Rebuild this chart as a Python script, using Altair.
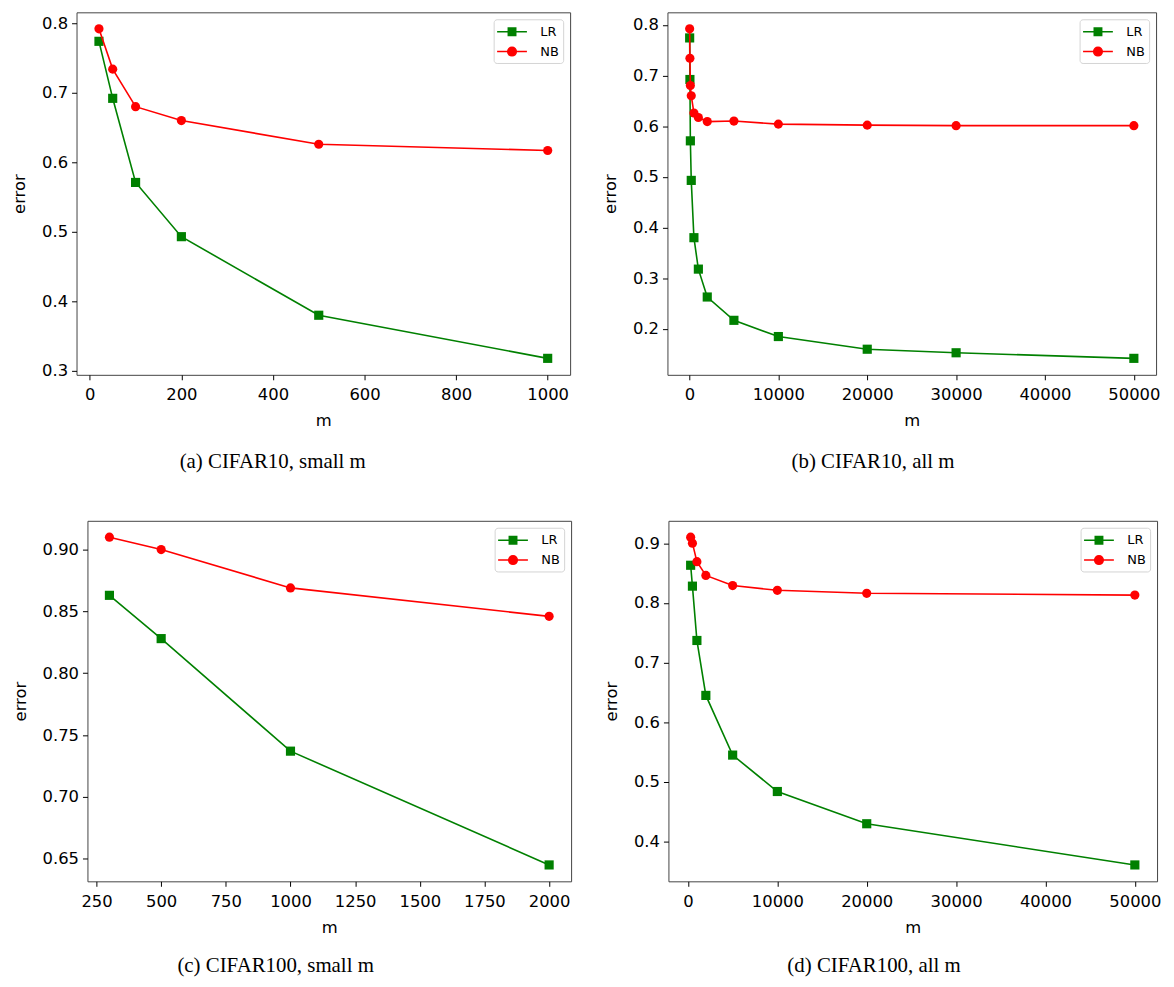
import altair as alt
import pandas as pd

GREEN = "#008000"
RED = "#ff0000"

# (a) CIFAR10, small m
m_a = [20, 50, 100, 200, 500, 1000]
lr_a = [0.774, 0.692, 0.571, 0.493, 0.380, 0.318]
nb_a = [0.792, 0.734, 0.680, 0.660, 0.626, 0.617]

# (b) CIFAR10, all m
m_b = [20, 50, 100, 200, 500, 1000, 2000, 5000, 10000, 20000, 30000, 50000]
lr_b = [0.774, 0.692, 0.571, 0.493, 0.380, 0.318, 0.263, 0.217, 0.185, 0.160, 0.153, 0.142]
nb_b = [0.792, 0.734, 0.680, 0.660, 0.626, 0.617, 0.609, 0.610, 0.604, 0.602, 0.601, 0.601]

# (c) CIFAR100, small m
m_c = [300, 500, 1000, 2000]
lr_c = [0.863, 0.828, 0.737, 0.645]
nb_c = [0.910, 0.900, 0.869, 0.846]

# (d) CIFAR100, all m
m_d = [300, 500, 1000, 2000, 5000, 10000, 20000, 50000]
lr_d = [0.863, 0.828, 0.737, 0.645, 0.545, 0.484, 0.430, 0.361]
nb_d = [0.910, 0.900, 0.869, 0.846, 0.829, 0.821, 0.816, 0.813]

xticks_a = [0, 200, 400, 600, 800, 1000]
xticks_b = [0, 10000, 20000, 30000, 40000, 50000]
xticks_c = [250, 500, 750, 1000, 1250, 1500, 1750, 2000]
yticks_a = [0.3, 0.4, 0.5, 0.6, 0.7, 0.8]
yticks_b = [0.2, 0.3, 0.4, 0.5, 0.6, 0.7, 0.8]
yticks_c = [0.65, 0.70, 0.75, 0.80, 0.85, 0.90]
yticks_d = [0.4, 0.5, 0.6, 0.7, 0.8, 0.9]

SERIES = ["LR", "NB"]
# legend glyphs: a line segment with a marker on it (unit box = 15px)
SQ = "M-2,0L2,0M-0.5,-0.5L0.5,-0.5L0.5,0.5L-0.5,0.5Z"
CI = "M-2,0L2,0M0.58,0A0.58,0.58,0,1,1,-0.58,0A0.58,0.58,0,1,1,0.58,0Z"


def padded(vals, frac=0.05):
    lo, hi = min(vals), max(vals)
    r = hi - lo
    return [lo - frac * r, hi + frac * r]


def panel(m, lr, nb, xticks, yticks, yfmt, caption, w, h, dx, cap_offset):
    df = pd.DataFrame({
        "m": m + m,
        "error": lr + nb,
        "series": ["LR"] * len(m) + ["NB"] * len(m),
    })
    legend = alt.Legend(
        title=None, orient="top-right", offset=7, padding=4,
        fillColor="white", strokeColor="#d4d4d4", cornerRadius=3,
        labelFont="DejaVu Sans", labelFontSize=13, labelColor="black",
        symbolSize=225, symbolStrokeWidth=1.5, symbolOpacity=1, symbolOffset=6,
        rowPadding=4, labelOffset=20,
    )
    base = alt.Chart(df).encode(
        x=alt.X("m:Q", scale=alt.Scale(domain=padded(m), nice=False, zero=False),
                axis=alt.Axis(values=xticks, format="d", title="m")),
        y=alt.Y("error:Q", scale=alt.Scale(domain=padded(lr + nb), nice=False, zero=False),
                axis=alt.Axis(values=yticks, format=yfmt, title="error")),
    )
    layers = []
    for s, col, shp in [("LR", GREEN, "square"), ("NB", RED, "circle")]:
        sub = base.transform_filter(alt.datum.series == s)
        layers.append(sub.mark_line(color=col, strokeWidth=1.6))
        layers.append(sub.mark_point(shape=shp, filled=True, color=col, size=85, opacity=1))
    leg = base.transform_filter("false").mark_point(filled=True, opacity=1, strokeWidth=1.5).encode(
        color=alt.Color("series:N", scale=alt.Scale(domain=SERIES, range=[GREEN, RED]), legend=legend),
        stroke=alt.Stroke("series:N", scale=alt.Scale(domain=SERIES, range=[GREEN, RED]), legend=legend),
        shape=alt.Shape("series:N", scale=alt.Scale(domain=SERIES, range=[SQ, CI]), legend=legend),
    )
    layers.append(leg)
    return alt.layer(*layers).properties(
        width=w, height=h,
        title=alt.TitleParams(caption, orient="bottom", frame="group", anchor="middle",
                              font="Liberation Serif", fontSize=21, fontWeight="normal",
                              color="black", offset=cap_offset, dx=dx),
    )


def spacer():
    # invisible 1px column so that each row keeps its own left axis extent
    return alt.Chart(pd.DataFrame({"k": [0]})).mark_rect(opacity=0).encode(
        x=alt.value(0), x2=alt.value(1), y=alt.value(0), y2=alt.value(1)
    ).properties(width=1, height=1, view=alt.ViewBackground(stroke="transparent"))


pa = panel(m_a, lr_a, nb_a, xticks_a, yticks_a, ".1f", "(a) CIFAR10, small m", 497, 365, -51, 22)
pb = panel(m_b, lr_b, nb_b, xticks_b, yticks_b, ".1f", "(b) CIFAR10, all m", 492, 365, -39, 22)
pc = panel(m_c, lr_c, nb_c, xticks_c, yticks_c, ".2f", "(c) CIFAR100, small m", 487, 363, -54, 19)
pd_ = panel(m_d, lr_d, nb_d, xticks_b, yticks_d, ".1f", "(d) CIFAR100, all m", 492, 363, -39, 19)

indep = dict(color="independent", stroke="independent", shape="independent")

row1 = alt.hconcat(spacer(), alt.hconcat(pa, pb, spacing=31).resolve_scale(**indep), spacing=0).resolve_scale(**indep)
row2 = alt.hconcat(spacer(), alt.hconcat(pc, pd_, spacing=31).resolve_scale(**indep), spacing=0).resolve_scale(**indep)

chart = alt.vconcat(row1, row2, spacing=47).resolve_scale(**indep).properties(
    padding={"left": 0, "top": 0, "right": 4, "bottom": 0}
).configure_view(
    stroke="#444444", strokeWidth=1
).configure_axis(
    labelFont="DejaVu Sans", labelFontSize=16.5, labelColor="black",
    titleFont="DejaVu Sans", titleFontSize=16.5, titleFontWeight="normal", titleColor="black",
    tickColor="black", tickSize=5, domain=False, grid=False,
).configure_axisX(
    labelPadding=7, titlePadding=10,
).configure_axisY(
    labelPadding=4, titlePadding=14,
)

chart.save("out.html", embed_options={"renderer": "svg", "actions": False})
